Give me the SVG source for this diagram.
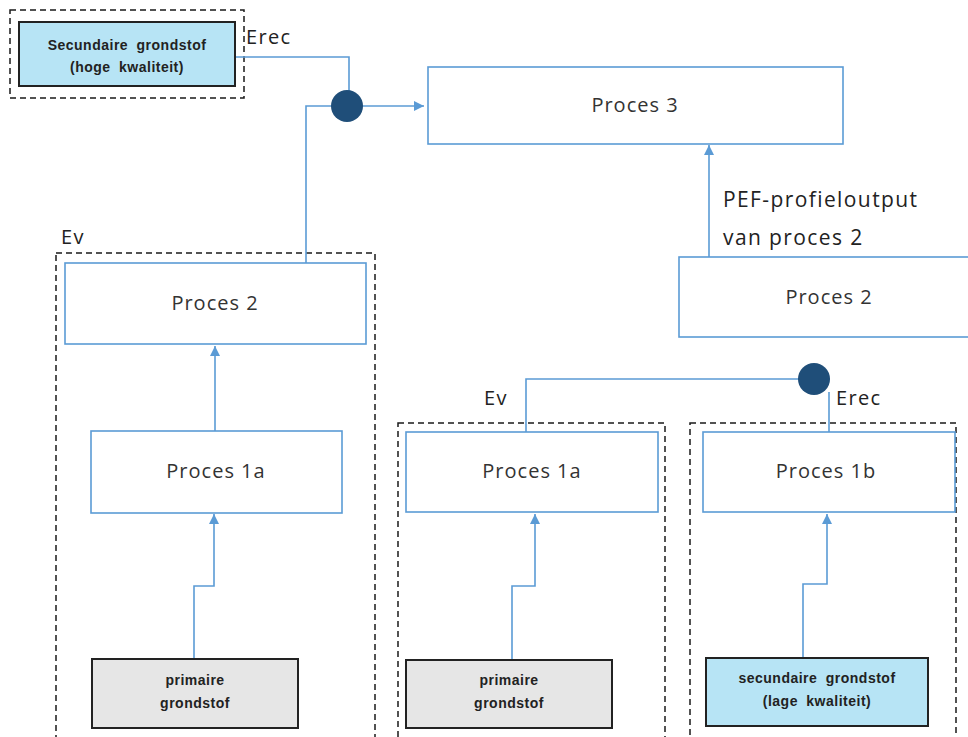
<svg xmlns="http://www.w3.org/2000/svg" width="968" height="737" viewBox="0 0 968 737">
<defs>
<marker id="arr" viewBox="0 0 10 10" refX="10" refY="5" markerWidth="10" markerHeight="10" markerUnits="userSpaceOnUse" orient="auto">
<path d="M0,0 L10,5 L0,10 z" fill="#5b9bd5"/>
</marker>
<style>
.dash{fill:none;stroke:#1a1a1a;stroke-width:1.5;stroke-dasharray:6 4}
.proc{fill:#ffffff;stroke:#5b9bd5;stroke-width:1.6}
.raw{stroke:#222;stroke-width:2}
.gray{fill:#e6e6e6}
.blue{fill:#b7e4f5}
.t{font-family:"Open Sans","Liberation Sans",sans-serif;font-size:20px;letter-spacing:1px;fill:#333;text-anchor:middle}
.lab{font-family:"Open Sans","Liberation Sans",sans-serif;font-size:20px;letter-spacing:1.3px;fill:#222}
.big{font-size:21px;letter-spacing:1.4px}
.s{font-family:"Liberation Sans",Arial,sans-serif;font-size:14px;letter-spacing:0.5px;word-spacing:4px;font-weight:bold;fill:#222;text-anchor:middle}
.c{fill:none;stroke:#5b9bd5;stroke-width:1.6}
.dot{fill:#1f4e79}
</style>
</defs>
<rect width="968" height="737" fill="#ffffff"/>

<g id="group-left">
<rect class="dash" x="56" y="253" width="319" height="490"/>
<text class="lab" x="61" y="244">Ev</text>
</g>
<g id="group-mid">
<rect class="dash" x="398" y="423" width="267" height="320"/>
<text class="lab" x="484" y="405">Ev</text>
</g>
<g id="group-right">
<rect class="dash" x="690" y="423" width="266" height="320"/>
<text class="lab" x="836" y="405">Erec</text>
</g>
<g id="group-top">
<rect class="dash" x="10" y="10" width="234" height="88"/>
<text class="lab" x="246" y="44">Erec</text>
</g>

<g id="connectors">
<polyline class="c" points="235,57 349,57 349,92"/>
<polyline class="c" points="331,106 306,106 306,263"/>
<line class="c" x1="363" y1="106" x2="424" y2="106" marker-end="url(#arr)"/>
<line class="c" x1="709" y1="257" x2="709" y2="145" marker-end="url(#arr)"/>
<line class="c" x1="215" y1="431" x2="215" y2="346" marker-end="url(#arr)"/>
<polyline class="c" points="194,659 194,586 214,586 214,514" marker-end="url(#arr)"/>
<polyline class="c" points="512,660 512,586 535,586 535,514" marker-end="url(#arr)"/>
<polyline class="c" points="803,658 803,584 827,584 827,514" marker-end="url(#arr)"/>
<polyline class="c" points="526,432 526,379 799,379"/>
<line class="c" x1="829" y1="392" x2="829" y2="432"/>
<circle class="dot" cx="347" cy="106" r="16"/>
<circle class="dot" cx="814" cy="379" r="16"/>
<text class="lab big" x="723" y="207">PEF-profieloutput</text>
<text class="lab big" x="723" y="245">van proces 2</text>
</g>

<g id="sec-hoog">
<rect class="raw blue" x="19" y="22" width="216" height="64"/>
<text class="s" x="127" y="50">Secundaire grondstof</text>
<text class="s" x="127" y="72">(hoge kwaliteit)</text>
</g>
<g id="proces3">
<rect class="proc" x="428" y="67" width="415" height="77"/>
<text class="t" x="635" y="112">Proces 3</text>
</g>
<g id="proces2-right">
<rect class="proc" x="679" y="257" width="300" height="80"/>
<text class="t" x="829" y="304">Proces 2</text>
</g>
<g id="proces2-left">
<rect class="proc" x="65" y="263" width="301" height="81"/>
<text class="t" x="215" y="310">Proces 2</text>
</g>
<g id="proces1a-left">
<rect class="proc" x="91" y="431" width="251" height="82"/>
<text class="t" x="216" y="478">Proces 1a</text>
</g>
<g id="proces1a-mid">
<rect class="proc" x="406" y="432" width="252" height="80"/>
<text class="t" x="532" y="478">Proces 1a</text>
</g>
<g id="proces1b">
<rect class="proc" x="703" y="432" width="252" height="80"/>
<text class="t" x="826" y="478">Proces 1b</text>
</g>
<g id="primair-left">
<rect class="raw gray" x="92" y="659" width="206" height="69"/>
<text class="s" x="195" y="685">primaire</text>
<text class="s" x="195" y="708">grondstof</text>
</g>
<g id="primair-mid">
<rect class="raw gray" x="406" y="660" width="206" height="68"/>
<text class="s" x="509" y="685">primaire</text>
<text class="s" x="509" y="708">grondstof</text>
</g>
<g id="sec-laag">
<rect class="raw blue" x="706" y="658" width="222" height="68"/>
<text class="s" x="817" y="683">secundaire grondstof</text>
<text class="s" x="817" y="706">(lage kwaliteit)</text>
</g>
</svg>
